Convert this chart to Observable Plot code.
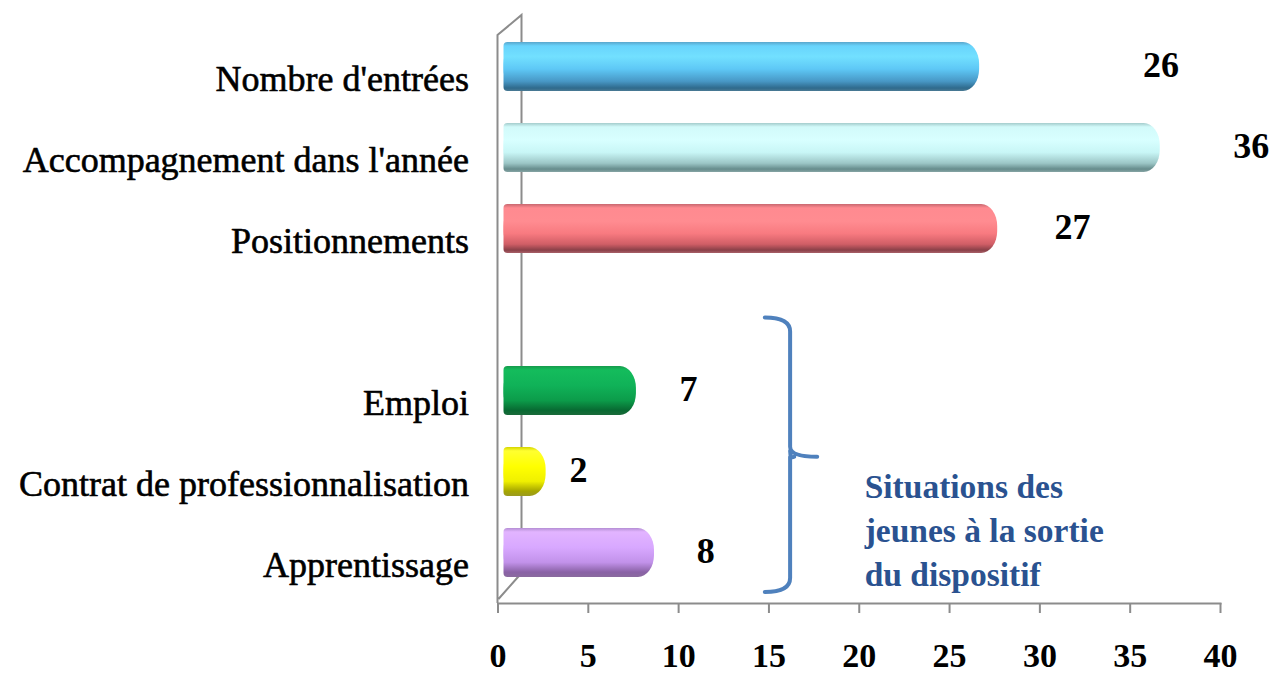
<!DOCTYPE html>
<html><head><meta charset="utf-8">
<script src="https://cdn.jsdelivr.net/npm/d3@7"></script>
<script src="https://cdn.jsdelivr.net/npm/@observablehq/plot@0.6"></script>
<style>html,body{margin:0;padding:0;background:#fff;} #chart svg{display:block}</style>
</head><body><div id="chart"></div>
<script>
// ---- data ----
const categories = ["Nombre d'entrées", "Accompagnement dans l'année", "Positionnements", "", "Emploi", "Contrat de professionnalisation", "Apprentissage"];
const barLabels = ["Nombre d'entrées", "Accompagnement dans l'année", "Positionnements", "Emploi", "Contrat de professionnalisation", "Apprentissage"];
const values = [26, 36, 27, 7, 2, 8];
const xTicks = [0, 5, 10, 15, 20, 25, 30, 35, 40];
const groupNote = "Situations des\njeunes à la sortie\ndu dispositif";

// ---- styles ----
const gradientStops = [
  [[0,"#5aa6cc"],[0.08,"#68d4fc"],[0.3,"#72e0ff"],[0.55,"#5ec8f6"],[0.8,"#4898c6"],[0.94,"#2f6a8c"],[1,"#4a7a94"]],
  [[0,"#a4cccc"],[0.08,"#d2fafa"],[0.35,"#d8ffff"],[0.6,"#c8f6f6"],[0.82,"#9cc6c6"],[0.94,"#668c8c"],[1,"#86a4a4"]],
  [[0,"#c86870"],[0.08,"#ff8a90"],[0.35,"#ff8c91"],[0.6,"#f87a80"],[0.82,"#d05e66"],[0.94,"#8a4048"],[1,"#a86068"]],
  [[0,"#169a4c"],[0.08,"#14bc5c"],[0.4,"#10b258"],[0.7,"#0c9c4a"],[0.9,"#086a32"],[1,"#1a6a3a"]],
  [[0,"#d4d400"],[0.08,"#ffff30"],[0.4,"#ffff00"],[0.7,"#f0f000"],[0.9,"#a6a600"],[1,"#9a9a20"]],
  [[0,"#b48ed4"],[0.08,"#e2b4ff"],[0.4,"#d8a8ff"],[0.7,"#c292ea"],[0.9,"#8a62a6"],[1,"#8a6a9e"]]
];
const labelShift = [10.7, 5.7, 4.8, 3.55, 2.46, 3.5]; // label offsets (x units) past the bar end
const DX = 24, DY = -20; // 3D depth of the back wall
const serif = "'Liberation Serif', 'Times New Roman', serif";

const data = barLabels.map((c, i) => ({cat: c, value: values[i], fill: `url(#g${i})`, shift: labelShift[i]}));

const wallMark = (index, scales, vals, dims) => {
  const x0 = scales.x(0), top = dims.marginTop, bot = dims.height - dims.marginBottom;
  const p = d3.path();
  p.moveTo(x0, bot); p.lineTo(x0, top); p.lineTo(x0 + DX, top + DY);
  p.lineTo(x0 + DX, bot + DY - 10); p.lineTo(x0 + 1, bot - 4);
  return d3.create("svg:path").attr("d", p.toString()).attr("fill", "none")
    .attr("stroke", "#8c8c8c").attr("stroke-width", 2).node();
};

const braceMark = (index, scales, vals, dims) => {
  const y = scales.y, bw = y.bandwidth();
  const yTop = y("") + bw / 2 - 2;
  const yBot = y("Apprentissage") + bw + 5;
  const yMid = (yTop + yBot) / 2 + 2;
  const xL = scales.x(14.8), xM = scales.x(16.2), xT = scales.x(17.7);
  const d = `M${xL},${yTop} Q${xM},${yTop} ${xM},${yTop + 14} L${xM},${yMid - 10} Q${xM},${yMid} ${xT},${yMid} ` +
            `M${xM},${yMid - 6} Q${xM},${yMid + 2} ${xM + 4},${yMid} M${xM},${yMid} L${xM},${yBot - 14} Q${xM},${yBot} ${xL},${yBot}`;
  return d3.create("svg:path").attr("d", d).attr("fill", "none").attr("stroke", "#4f81bd")
    .attr("stroke-width", 4).attr("stroke-linecap", "round").node();
};

const chart = Plot.plot({
  width: 1285, height: 673,
  marginLeft: 497.5, marginRight: 65, marginTop: 35, marginBottom: 70,
  x: {domain: [0, 40], axis: null, label: null},
  y: {domain: categories, paddingInner: 0.4, paddingOuter: 0.2, axis: null},
  color: {type: "identity"},
  style: {fontFamily: serif, background: "white", overflow: "visible"},
  marks: [
    wallMark,
    Plot.frame({anchor: "bottom", stroke: "#8c8c8c", strokeWidth: 2}),
    Plot.axisX({ticks: xTicks, tickSize: 10, tickPadding: 29, fontSize: 34, fontWeight: "bold", label: null,
      stroke: "#8c8c8c", strokeWidth: 2, fill: "black", tickFormat: d => String(d), fontFamily: serif}),
    Plot.barX(data, {y: "cat", x1: 0, x2: "value", fill: "fill", dx: DX / 2, dy: DY / 2, insetLeft: -6, rx: 16, ry: 22}),
    Plot.barX(data, {y: "cat", x1: 0, x2: d => d.value / 2, fill: "fill", dx: DX / 2, dy: DY / 2, insetLeft: -6, rx: 4, ry: 4}),
    Plot.text(data, {y: "cat", x: 0, text: "cat", textAnchor: "end", dx: -29, dy: 2, fontSize: 36, fill: "black", stroke: "black", strokeWidth: 0.6}),
    Plot.text(data, {y: "cat", x: d => d.value + d.shift, text: d => String(d.value), dy: -12, fontSize: 36, fontWeight: "bold", fill: "black"}),
    braceMark,
    Plot.text([groupNote], {x: () => 20.3, y: () => "Contrat de professionnalisation", text: d => d, textAnchor: "start",
      lineAnchor: "middle", lineHeight: 1.32, dy: 46, fontSize: 33.5, fontWeight: "bold", fill: "#2a5290"})
  ]
});

const defs = d3.select(chart).insert("defs", ":first-child");
gradientStops.forEach((stops, i) => {
  const g = defs.append("linearGradient").attr("id", `g${i}`).attr("x1", 0).attr("y1", 0).attr("x2", 0).attr("y2", 1);
  stops.forEach(([o, c]) => g.append("stop").attr("offset", o).attr("stop-color", c));
});
document.getElementById("chart").appendChild(chart);
</script>
</body></html>
